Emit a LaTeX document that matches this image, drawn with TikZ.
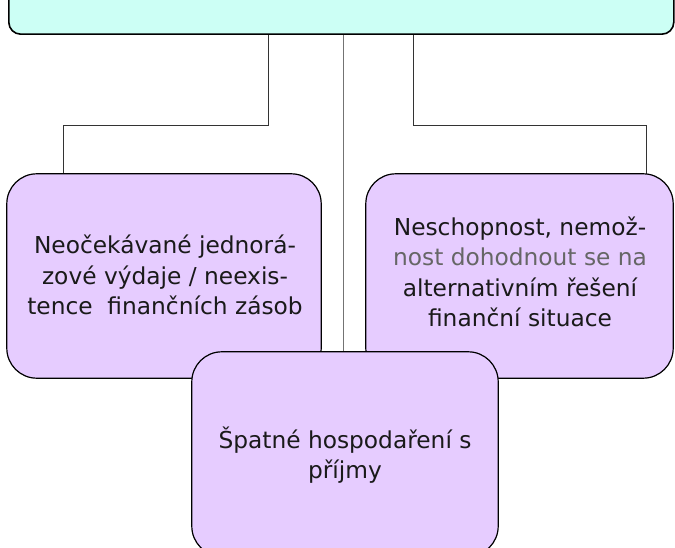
\documentclass[tikz,border=0pt]{standalone}
\usepackage{fontspec}
\setmainfont{DejaVu Sans}
\definecolor{topfill}{HTML}{CCFFF5}
\definecolor{boxfill}{HTML}{E6CCFF}
\definecolor{txt}{HTML}{1A1A1A}
\begin{document}
\begin{tikzpicture}[x=1pt,y=-1pt,
  topbox/.style={draw=black, line width=1.6pt, fill=topfill, rounded corners=12pt},
  causebox/.style={draw=black, line width=1.2pt, fill=boxfill, rounded corners=30pt},
  link/.style={draw=black!80, line width=0.9pt},
  lbl/.style={align=center, text=txt, font=\fontsize{23.3}{30.5}\selectfont, inner sep=0pt}]
\useasboundingbox (0,0) rectangle (675,548);
\clip (0,0) rectangle (675,548);
% top box
\node[topbox, minimum width=665pt, minimum height=80pt, anchor=south west] (T) at (8,35) {};
% coordinates for connector routes
\coordinate (xa) at (268,0);
\coordinate (xb) at (343,0);
\coordinate (xc) at (413,0);
\coordinate (xl) at (63,0);
\coordinate (xr) at (646,0);
\coordinate (yh) at (0,125);
% box frames
\node[inner sep=0pt, minimum width=314pt, minimum height=204pt] (L) at (164,276) {};
\node[inner sep=0pt, minimum width=307pt, minimum height=204pt] (R) at (519.5,276) {};
\node[inner sep=0pt, minimum width=306pt, minimum height=204pt] (B) at (345,454) {};
% connectors
\draw[link] (T.south -| xa) -- (xa |- yh) -- (xl |- yh) -- (L.north -| xl);
\draw[link] (T.south -| xc) -- (xc |- yh) -- (xr |- yh) -- (R.north -| xr);
\draw[link, draw=black!55] (T.south -| xb) -- (B.north -| xb);
% cause boxes
\draw[causebox] (L.south west) rectangle (L.north east);
\draw[causebox] (R.south west) rectangle (R.north east);
\draw[causebox] (B.south west) rectangle (B.north east);
% labels
\node[lbl] (Lt) at (165,275) {Neočekávané jednorá-\\zové výdaje / neexis-\\tence\ \ finančních zásob};
\node[lbl] (Rt) at (520,272) {Neschopnost, nemož-\\{\color{black!60}nost dohodnout se na}\\alternativním řešení\\finanční situace};
\node[lbl] (Bt) at (345,455) {Špatné hospodaření s\\příjmy};
\end{tikzpicture}
\end{document}
